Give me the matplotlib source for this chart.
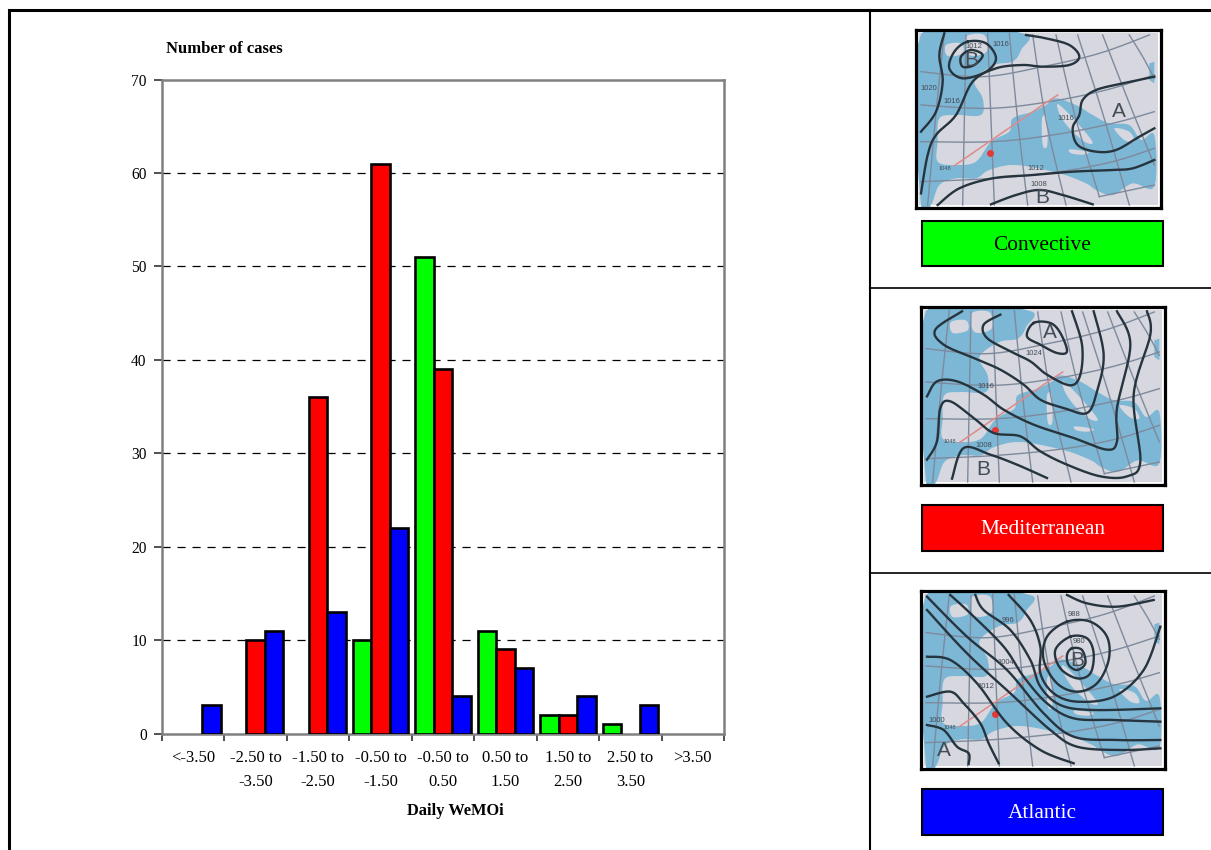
"""Daily WeMOi histogram by rainfall type, with the three synoptic maps on the right."""

import numpy as np
import matplotlib
matplotlib.use("Agg")
import matplotlib.pyplot as plt
from matplotlib.patches import Polygon, Rectangle

W, H = 1211, 850
plt.rcParams["font.family"] = ["Liberation Serif", "DejaVu Serif"]

CATEGORIES = ["<-3.50", "-2.50 to\n-3.50", "-1.50 to\n-2.50", "-0.50 to\n-1.50",
              "-0.50 to\n0.50", "0.50 to\n1.50", "1.50 to\n2.50", "2.50 to\n3.50", ">3.50"]
CONVECTIVE    = [0, 0, 0, 10, 51, 11, 2, 1, 0]
MEDITERRANEAN = [0, 10, 36, 61, 39, 9, 2, 0, 0]
ATLANTIC      = [3, 11, 13, 22, 4, 7, 4, 3, 0]
SERIES = [(CONVECTIVE, "#00ff00"), (MEDITERRANEAN, "#ff0000"), (ATLANTIC, "#0000ff")]

# map drawings, in units of 1/3 px from the top-left of each map frame
SEA_MAIN = [(15, 12), (320, 10), (315, 60), (290, 95), (235, 105), (175, 150), (200, 205), (195, 255),
            (120, 255), (70, 265), (65, 335), (65, 395), (120, 405), (180, 395), (225, 335),
            (280, 305), (290, 265), (350, 245), (390, 225), (420, 205), (480, 225), (530, 255),
            (580, 280), (640, 285), (675, 330), (715, 315), (715, 470), (650, 460), (590, 495),
            (540, 480), (510, 460), (430, 430), (300, 405), (220, 420), (180, 445), (120, 445),
            (70, 465), (45, 525), (15, 525)]
LAND_ITALY   = [(425, 222), (465, 258), (515, 315), (530, 340), (505, 335), (460, 295), (432, 255)]
LAND_SARD    = [(378, 265), (392, 265), (394, 345), (380, 345)]
LAND_SICILY  = [(462, 358), (518, 366), (500, 374), (466, 370)]
LAND_BALKANS = [(595, 295), (640, 305), (655, 335), (625, 330)]
LAND_IRELAND = [(90, 45), (135, 40), (140, 70), (95, 78)]
LAND_UK      = [(150, 20), (205, 15), (212, 65), (160, 75)]
SEA_NE       = [(700, 100), (715, 95), (715, 160), (700, 150)]

PARALLELS = [
    [(15, 125), (200, 140), (380, 110), (550, 70), (700, 15)],
    [(15, 225), (220, 235), (400, 215), (570, 180), (715, 135)],
    [(15, 335), (230, 335), (410, 315), (590, 280), (715, 245)],
    [(15, 455), (230, 445), (430, 425), (590, 395), (715, 355)],
    [(550, 500), (715, 465)],
]
MERIDIANS = [
    [(85, 10), (60, 250), (35, 525)],
    [(150, 15), (145, 270), (140, 525)],
    [(215, 10), (225, 270), (235, 525)],
    [(280, 10), (305, 270), (335, 525)],
    [(350, 15), (390, 270), (450, 525)],
    [(420, 15), (475, 250), (550, 500)],
    [(485, 15), (560, 250), (640, 525)],
    [(560, 15), (640, 220), (715, 405)],
    [(640, 15), (680, 80), (715, 145)],
]

ISOBARS_CONV = [
    [(85, 10), (70, 75), (80, 155), (60, 245), (15, 305)],
    [(15, 490), (35, 375), (60, 315), (120, 255), (170, 155), (240, 115), (320, 105), (380, 110),
     (460, 105), (490, 80), (460, 45), (390, 25), (330, 15)],
    [(155, 35), (210, 40), (240, 85), (210, 125), (140, 145), (100, 115), (115, 65), (155, 35)],
    [(165, 60), (200, 75), (175, 105), (140, 110), (135, 80), (165, 60)],
    [(65, 525), (130, 475), (230, 445), (350, 435), (470, 425), (590, 420), (650, 415), (715, 390)],
    [(225, 523), (300, 495), (370, 480), (440, 495), (530, 523)],
    [(715, 140), (620, 160), (540, 180), (500, 210), (490, 255), (470, 295), (485, 345), (540, 365),
     (600, 360), (670, 320), (715, 295)],
]
ISOBARS_MEDI = [
    [(338, 48), (388, 48), (418, 78), (438, 133), (408, 138), (358, 113), (318, 88), (338, 48)],
    [(238, 23), (188, 53), (198, 93), (268, 133), (328, 163), (378, 203), (448, 235), (478, 203),
     (483, 113), (453, 13)],
    [(123, 13), (43, 68), (68, 113), (158, 153), (238, 188), (308, 233), (358, 278), (428, 303),
     (498, 318), (528, 253), (548, 143), (518, 13)],
    [(18, 268), (48, 223), (108, 223), (188, 263), (248, 308), (338, 353), (458, 393), (558, 428),
     (588, 403), (588, 303), (628, 113), (588, 13)],
    [(18, 458), (48, 403), (58, 303), (88, 283), (158, 333), (218, 378), (298, 388), (358, 433),
     (438, 473), (538, 508), (618, 508), (658, 463), (638, 263), (688, 83), (678, 13)],
    [(93, 515), (128, 423), (208, 443), (288, 473), (378, 513)],
]
ISOBARS_ATL = [
    [(438, 92), (508, 92), (558, 137), (563, 207), (528, 277), (468, 302), (408, 277), (368, 207),
     (378, 137), (438, 92)],
    [(448, 137), (498, 142), (518, 187), (508, 247), (468, 262), (418, 232), (403, 177), (448, 137)],
    [(453, 172), (483, 177), (493, 217), (468, 237), (443, 222), (438, 192), (453, 172)],
    [(438, 12), (498, 37), (588, 47), (698, 27)],
    [(263, 12), (328, 87), (358, 167), (358, 247), (398, 307), (468, 332), (578, 317), (668, 237), (718, 107)],
    [(163, 12), (188, 57), (268, 117), (328, 207), (358, 287), (418, 342), (518, 357), (718, 352)],
    [(88, 12), (148, 67), (248, 167), (308, 257), (378, 337), (458, 382), (578, 387), (718, 392)],
    [(18, 17), (138, 137), (258, 237), (368, 367), (458, 437), (588, 447), (718, 447)],
    [(18, 57), (138, 187), (268, 307), (388, 417), (468, 467), (598, 477), (718, 472)],
    [(18, 197), (88, 207), (168, 277), (258, 397), (358, 477), (458, 517)],
    [(18, 317), (88, 302), (128, 337), (178, 397), (203, 457), (233, 517)],
    [(18, 402), (68, 417), (108, 467), (143, 487), (143, 519)],
]
ROUTE = [(115, 407), (390, 218), (425, 195)]
STATION = (222, 369)

LABELS_CONV = [(610, 245, "A", 15), (380, 503, "B", 15), (165, 90, "B", 15),
               (175, 48, "1012", 5.5), (255, 42, "1016", 5.5), (40, 175, "1020", 5.5),
               (108, 215, "1016", 5.5), (450, 265, "1016", 5.5), (360, 415, "1012", 5.5),
               (368, 462, "1008", 5.5), (88, 415, "1048", 4)]
LABELS_MEDI = [(386, 78, "A", 15), (186, 488, "B", 15), (338, 141, "1024", 5.5),
               (196, 238, "1016", 5.5), (188, 416, "1008", 5.5), (88, 403, "1048", 4)]
LABELS_ATL = [(468, 207, "B", 15), (68, 477, "A", 15), (458, 72, "988", 5.5), (475, 152, "980", 5.5),
              (260, 87, "996", 5.5), (256, 214, "1004", 5.5), (196, 285, "1012", 5.5),
              (48, 387, "1000", 5.5), (88, 410, "1048", 4)]

MAPS = [
    ((916, 30, 245, 178), ISOBARS_CONV, LABELS_CONV),
    ((921, 307, 244, 178), ISOBARS_MEDI, LABELS_MEDI),
    ((921, 591, 244, 178), ISOBARS_ATL, LABELS_ATL),
]
BOXES = [
    ((922, 221, 241, 45), "Convective", "#00ff00", "black"),
    ((922, 505, 241, 46), "Mediterranean", "#ff0000", "white"),
    ((922, 789, 241, 46), "Atlantic", "#0000ff", "white"),
]


def smooth(points, n=16):
    """Catmull-Rom through hand-traced points, only to round the map outlines."""
    p = np.array(points, dtype=float)
    closed = np.allclose(p[0], p[-1]) and len(p) > 3
    if closed:
        p = np.vstack([p[-2], p, p[1]])
    else:
        p = np.vstack([p[0], p, p[-1]])
    out = []
    t = np.linspace(0, 1, n, endpoint=False)[:, None]
    for i in range(1, len(p) - 2):
        a, b, c, d = p[i - 1], p[i], p[i + 1], p[i + 2]
        out.append(0.5 * (2 * b + (c - a) * t + (2 * a - 5 * b + 4 * c - d) * t**2
                          + (3 * b - a - 3 * c + d) * t**3))
    out.append(p[-2][None, :])
    return np.vstack(out)


def px_axes(fig, x, y, w, h):
    return fig.add_axes([x / W, 1 - (y + h) / H, w / W, h / H])


fig = plt.figure(figsize=(W / 100, H / 100), dpi=100, facecolor="white")

# ── Table rules ──────────────────────────────────────────────────────────────
bg = fig.add_axes([0, 0, 1, 1], zorder=0)
bg.set_xlim(0, W)
bg.set_ylim(H, 0)
bg.axis("off")
bg.plot([9, 9, W], [H, 10, 10], color="black", lw=2.2, solid_joinstyle="miter")
bg.plot([870, 870], [10, H], color="black", lw=1.5)
bg.plot([870, W], [288, 288], color="black", lw=1.2)
bg.plot([870, W], [573, 573], color="black", lw=1.2)

# ── Bars ─────────────────────────────────────────────────────────────────────
ax = px_axes(fig, 162, 79.5, 562, 654)
x = np.arange(len(CATEGORIES))
bar_w = 0.295
for k, (vals, color) in enumerate(SERIES):
    vals = np.array(vals)
    keep = vals > 0          # empty classes draw nothing, no line on the baseline
    ax.bar(x[keep] + (k - 1) * bar_w, vals[keep], width=bar_w, color=color, edgecolor="black",
           linewidth=1.9, zorder=3)
ax.set_xlim(-0.5, len(CATEGORIES) - 0.5)
ax.set_ylim(0, 70)
ax.set_yticks(range(0, 71, 10))
ax.set_xticks(x)
ax.set_xticklabels(CATEGORIES, linespacing=1.65)
ax.set_xticks(np.arange(len(CATEGORIES) + 1) - 0.5, minor=True)
ax.tick_params(axis="x", which="major", length=0, pad=12, labelsize=12)
ax.tick_params(axis="x", which="minor", length=5, width=1.2, color="#333333")
ax.tick_params(axis="y", length=6, width=1.2, color="#333333", pad=5, labelsize=11.2)
for s in ax.spines.values():
    s.set_color("#808080")
    s.set_linewidth(1.8)
for v in range(10, 70, 10):
    ax.axhline(v, color="black", lw=0.9, dashes=(6.5, 5.5), zorder=1)
bg.text(166, 48.5, "Number of cases", fontsize=12, fontweight="bold", va="center", ha="left")
bg.text(455, 811, "Daily WeMOi", fontsize=11.8, fontweight="bold", va="center", ha="center")

# ── Maps ─────────────────────────────────────────────────────────────────────
for (mx, my, mw, mh), isobars, labels in MAPS:
    m = px_axes(fig, mx, my, mw, mh)
    m.set_xlim(0, mw * 3)
    m.set_ylim(mh * 3, 0)
    m.set_xticks([])
    m.set_yticks([])
    for s in m.spines.values():
        s.set_linewidth(2.3)
        s.set_color("black")
    m.add_patch(Rectangle((8, 8), mw * 3 - 16, mh * 3 - 16, fc="#d6d7df", ec="none", zorder=1))
    m.add_patch(Polygon(smooth(SEA_MAIN + SEA_MAIN[:1], 6), fc="#7db7d6", ec="none", zorder=2))
    m.add_patch(Polygon(SEA_NE, fc="#7db7d6", ec="none", zorder=2))
    for land in (LAND_ITALY, LAND_SARD, LAND_SICILY, LAND_BALKANS, LAND_IRELAND, LAND_UK):
        m.add_patch(Polygon(smooth(land + land[:1], 6), fc="#d6d7df", ec="none", zorder=3))
    for line in PARALLELS + MERIDIANS:
        c = smooth(line)
        m.plot(c[:, 0], c[:, 1], color="#7e8a9c", lw=1.0, zorder=4)
    r = np.array(ROUTE)
    m.plot(r[:, 0], r[:, 1], color="#e08a8a", lw=1.1, zorder=5)
    m.plot(*STATION, "o", color="#e23a3a", ms=4, zorder=6)
    for line in isobars:
        c = smooth(line)
        m.plot(c[:, 0], c[:, 1], color="#26343e", lw=1.7, zorder=7, clip_on=True)
    for lx, ly, txt, size in labels:
        m.text(lx, ly, txt, fontsize=size, color="#444c55", ha="center", va="center", zorder=8,
               family=["Liberation Sans", "DejaVu Sans"])

# ── Colour keys ──────────────────────────────────────────────────────────────
for (bx, by, bw, bh), name, color, tc in BOXES:
    bg.add_patch(Rectangle((bx, by), bw, bh, fc=color, ec="black", lw=1.5, zorder=2))
    bg.text(bx + bw / 2, by + bh / 2 + 2, name, color=tc, fontsize=15.4, ha="center", va="center", zorder=3)

fig.savefig("out.png", dpi=100)
plt.close(fig)
